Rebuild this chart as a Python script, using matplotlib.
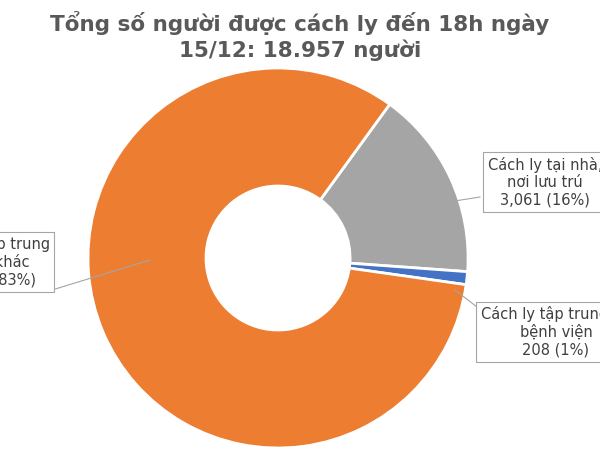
import matplotlib
matplotlib.use("Agg")
import matplotlib.pyplot as plt

labels = ["Cách ly tại nhà,\nnơi lưu trú\n3,061 (16%)",
          "Cách ly tập trung tại\nbệnh viện\n208 (1%)",
          "Cách ly tập trung\ntại nơi khác\n15,688 (83%)"]
values = [3061, 208, 15688]
colors = ["#A5A5A5", "#4472C4", "#ED7D31"]
explode = [16, 0, 0]

fig = plt.figure(figsize=(6, 4.5), dpi=100)
ax = fig.add_axes([0, 0, 1, 1])

cx, cy, r = 278, 192, 190
ax.pie(values, colors=colors, startangle=54, counterclock=False, radius=r, center=(cx, cy),
       explode=[e / r for e in explode],
       wedgeprops=dict(width=118, edgecolor="white", linewidth=2), frame=True)
ax.set_xlim(0, 600); ax.set_ylim(0, 450); ax.set_aspect("equal"); ax.axis("off")

fig.text(0.5, 0.975, "Tổng số người được cách ly đến 18h ngày\n15/12: 18.957 người",
         ha="center", va="top", fontsize=15.5, fontweight="bold", color="#595959", linespacing=1.25)

box = dict(boxstyle="square,pad=0.3", fc="white", ec="#A5A5A5", lw=0.8)
ax.text(50, 188, labels[2], ha="right", va="center", fontsize=10.5, color="#404040",
        multialignment="center", bbox=box)
ax.text(545, 268, labels[0], ha="center", va="center", fontsize=10.5, color="#404040",
        multialignment="center", bbox=box)
ax.text(556, 118, labels[1], ha="center", va="center", fontsize=10.5, color="#404040",
        multialignment="center", bbox=box)
ax.plot([52, 150], [160, 190], color="#A5A5A5", lw=0.8)
ax.plot([398, 480], [240, 253], color="#A5A5A5", lw=0.8)
ax.plot([455, 490], [160, 133], color="#A5A5A5", lw=0.8)

fig.savefig("out.png", dpi=100)
